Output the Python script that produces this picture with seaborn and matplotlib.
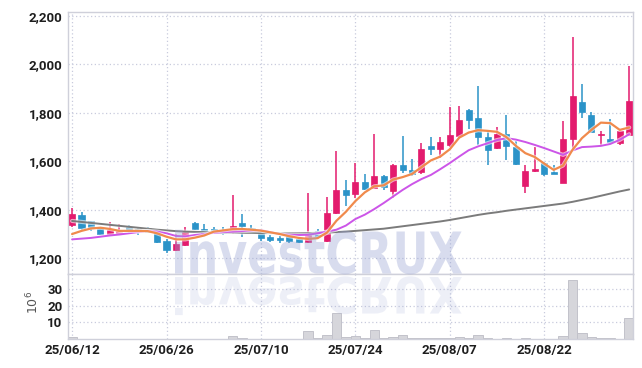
import numpy as np
import pandas as pd
import matplotlib
matplotlib.use("Agg")
import matplotlib.pyplot as plt
import seaborn as sns
from matplotlib.textpath import TextPath
from matplotlib.font_manager import FontProperties
from matplotlib.patches import PathPatch
from matplotlib.transforms import Affine2D
import matplotlib.patheffects as pe

# ---------------- data ----------------
tick_pos = [0, 10, 20, 30, 40, 50]
tick_labels = ["25/06/12", "25/06/26", "25/07/10", "25/07/24", "25/08/07", "25/08/22"]

opens = [1336, 1377, 1352, 1326, 1302, 1300, 1330, 1322, 1326, 1312,
         1271, 1234, 1255, 1347, 1322, 1319, 1312, 1312, 1344, 1323,
         1316, 1288, 1284, 1292, 1278, 1267, 1311, 1271, 1385, 1480,
         1466, 1513, 1491, 1540, 1477, 1583, 1566, 1555, 1662, 1651,
         1669, 1703, 1813, 1779, 1700, 1654, 1714, 1658, 1500, 1559,
         1594, 1555, 1511, 1693, 1847, 1793, 1708, 1694, 1676, 1707]
highs = [1406, 1390, 1355, 1330, 1351, 1340, 1336, 1326, 1330, 1315,
         1278, 1302, 1330, 1349, 1340, 1330, 1330, 1460, 1384, 1336,
         1322, 1295, 1290, 1302, 1285, 1470, 1322, 1454, 1644, 1525,
         1594, 1548, 1713, 1543, 1590, 1703, 1610, 1676, 1700, 1700,
         1823, 1827, 1815, 1912, 1728, 1740, 1793, 1683, 1587, 1660,
         1597, 1583, 1768, 2112, 1919, 1802, 1727, 1775, 1727, 1994]
lows = [1328, 1316, 1312, 1295, 1295, 1300, 1303, 1297, 1303, 1262,
        1223, 1230, 1251, 1317, 1299, 1302, 1297, 1302, 1289, 1303,
        1271, 1269, 1265, 1265, 1262, 1262, 1285, 1268, 1381, 1415,
        1447, 1480, 1489, 1481, 1447, 1553, 1539, 1546, 1628, 1614,
        1660, 1697, 1734, 1669, 1587, 1652, 1604, 1587, 1470, 1555,
        1539, 1547, 1511, 1651, 1779, 1721, 1669, 1680, 1666, 1707]
closes = [1381, 1323, 1323, 1299, 1315, 1312, 1312, 1315, 1308, 1267,
          1234, 1258, 1310, 1319, 1306, 1308, 1306, 1332, 1332, 1310,
          1282, 1275, 1275, 1271, 1267, 1297, 1292, 1388, 1480, 1463,
          1516, 1484, 1540, 1493, 1583, 1566, 1546, 1653, 1653, 1679,
          1710, 1772, 1772, 1699, 1648, 1714, 1665, 1591, 1562, 1569,
          1546, 1547, 1694, 1868, 1804, 1721, 1712, 1680, 1727, 1850]
volume = [1.0, 0.2, 0.2, 0.2, 0.2, 0.2, 0.2, 0.1, 0.2, 0.3,
          0.3, 0.3, 0.3, 0.2, 0.2, 0.1, 0.1, 1.6, 0.5, 0.2,
          0.3, 0.1, 0.1, 0.2, 0.1, 4.6, 0.8, 2.3, 15.5, 1.0,
          1.7, 0.6, 5.2, 0.6, 1.0, 2.4, 0.7, 0.5, 0.6, 0.5,
          0.5, 1.0, 0.5, 2.2, 0.5, 0.3, 0.4, 0.3, 0.6, 0.2,
          0.3, 0.3, 1.8, 35.5, 3.4, 1.2, 0.6, 0.5, 0.2, 12.6]
ma_short = [1300, 1313, 1323, 1326, 1321, 1313, 1313, 1313, 1312, 1303,
            1289, 1278, 1278, 1285, 1294, 1310, 1315, 1320, 1321, 1318,
            1314, 1307, 1300, 1291, 1284, 1280, 1283, 1306, 1355, 1392,
            1436, 1472, 1497, 1501, 1525, 1535, 1548, 1576, 1604, 1620,
            1650, 1698, 1719, 1729, 1726, 1722, 1700, 1664, 1634, 1618,
            1591, 1565, 1583, 1648, 1696, 1730, 1760, 1758, 1730, 1740]
ma_mid = [1278, 1281, 1284, 1289, 1294, 1298, 1303, 1308, 1313, 1310,
          1303, 1292, 1290, 1296, 1300, 1305, 1308, 1310, 1312, 1314,
          1316, 1308, 1300, 1297, 1296, 1297, 1303, 1310, 1318, 1335,
          1362, 1380, 1403, 1428, 1455, 1482, 1506, 1527, 1544, 1568,
          1593, 1620, 1646, 1662, 1675, 1688, 1696, 1690, 1680, 1668,
          1655, 1641, 1627, 1645, 1659, 1661, 1664, 1672, 1689, 1712]
ma_long = [1354, 1350, 1346, 1342, 1338, 1334, 1330, 1326, 1322, 1318,
           1315, 1312, 1310, 1309, 1308, 1307, 1306, 1306, 1305, 1305,
           1304, 1304, 1304, 1303, 1303, 1304, 1305, 1306, 1308, 1310,
           1313, 1316, 1319, 1322, 1327, 1332, 1337, 1342, 1347, 1352,
           1358, 1365, 1372, 1379, 1385, 1390, 1396, 1401, 1406, 1411,
           1416, 1421, 1426, 1433, 1441, 1449, 1458, 1467, 1476, 1484]
price_ticks = [1200, 1400, 1600, 1800, 2000, 2200]
vol_ticks = [10, 20, 30]

# ---------------- style ----------------
sns.set_theme(style="white")
plt.rcParams['font.family'] = ['Roboto', 'DejaVu Sans']

UP = "#e31b6d"
DOWN = "#2b93c8"
GRID = "#c8cbdd"
SPINE = "#cfd0da"

df = pd.DataFrame({"i": np.arange(len(closes)), "open": opens, "high": highs,
                   "low": lows, "close": closes, "vol": volume,
                   "ma_s": ma_short, "ma_m": ma_mid, "ma_l": ma_long})

W, H = 642, 368
fig = plt.figure(figsize=(W / 100, H / 100), dpi=100)
fig.patch.set_facecolor("white")
ax = fig.add_axes([68.3 / W, 1 - 274 / H, (632.5 - 68.3) / W, (274 - 11.7) / H])
axv = fig.add_axes([68.3 / W, 1 - 339 / H, (632.5 - 68.3) / W, 65 / H], sharex=ax)

# candles
up = df["close"] >= df["open"]
colors = np.where(up, UP, DOWN)
ax.vlines(df["i"], df["low"], df["high"], colors=colors, lw=1.1, zorder=2)
body_bottom = np.minimum(df["open"], df["close"])
body_h = np.maximum(np.abs(df["close"] - df["open"]), 4)
ax.bar(df["i"], body_h, bottom=body_bottom, width=0.64, color=colors,
       edgecolor=colors, linewidth=0.5, zorder=3)

# moving averages
halo = [pe.Stroke(linewidth=3.0, foreground="white", alpha=0.6), pe.Normal()]
sns.lineplot(data=df, x="i", y="ma_l", ax=ax, color="#7b7b7b", lw=1.4, zorder=4, legend=False)
sns.lineplot(data=df, x="i", y="ma_m", ax=ax, color="#cc55e8", lw=1.4, zorder=5, legend=False)
sns.lineplot(data=df, x="i", y="ma_s", ax=ax, color="#f08a4c", lw=1.6, zorder=6, legend=False)
for ln in ax.lines:
    ln.set_path_effects(halo)

# volume
axv.bar(df["i"], df["vol"], width=1.0, color="#d6d6db", edgecolor="#c2c2ca",
        linewidth=0.7, zorder=2)

# axes formatting
ax.set_xlim(-0.4, 59.35)
ax.set_ylim(1135, 2218)
axv.set_ylim(0, 39.2)

lab_kw = dict(fontsize=9.5, fontweight="bold", color="#1e1e1e")
ax.set_yticks(price_ticks, [f"{v:,}" for v in price_ticks], **lab_kw)
axv.set_yticks(vol_ticks, [str(v) for v in vol_ticks], **lab_kw)
axv.set_xticks(tick_pos, tick_labels, **lab_kw)
ax.tick_params(axis="x", labelbottom=False, length=0)
ax.tick_params(axis="y", length=0, pad=4.3)
axv.tick_params(axis="y", length=0, pad=4.3)
axv.tick_params(axis="x", length=0, pad=3.5)
ax.set_xlabel("")
ax.set_ylabel("")
axv.set_xlabel("")
axv.set_ylabel("")

for a in (ax, axv):
    a.set_facecolor("white")
    a.grid(True, color=GRID, linestyle=(0, (1, 2)), lw=0.9)
    a.set_axisbelow(True)
    for s in a.spines.values():
        s.set_color(SPINE)
        s.set_linewidth(1.0)
        s.set_visible(True)

fig.text(33 / W, 1 - 302 / H, r"$10^6$", rotation=90, ha="center", va="center",
         fontsize=9, color="#555555")

# watermark + reflection
fp = FontProperties(family="DejaVu Sans", weight="bold")
tp = TextPath((0, 0), "investCRUX", size=1, prop=fp)
ext = tp.get_extents()
x0, x1 = 175, 462
sx = (x1 - x0) / ext.width
sy = 42 / 0.729
t_main = Affine2D().translate(-ext.x0, 0).scale(sx, sy).translate(x0, H - 273.5)
fig.add_artist(PathPatch(tp, transform=t_main, facecolor="#95a0d2",
                         edgecolor="none", alpha=0.36, zorder=5))
t_ref = Affine2D().translate(-ext.x0, 0).scale(sx, -sy * 0.87).translate(x0, H - 277)
fig.add_artist(PathPatch(tp, transform=t_ref, facecolor="#95a0d2",
                         edgecolor="none", alpha=0.16, zorder=5))

fig.savefig("out.png", dpi=100, facecolor="white")
